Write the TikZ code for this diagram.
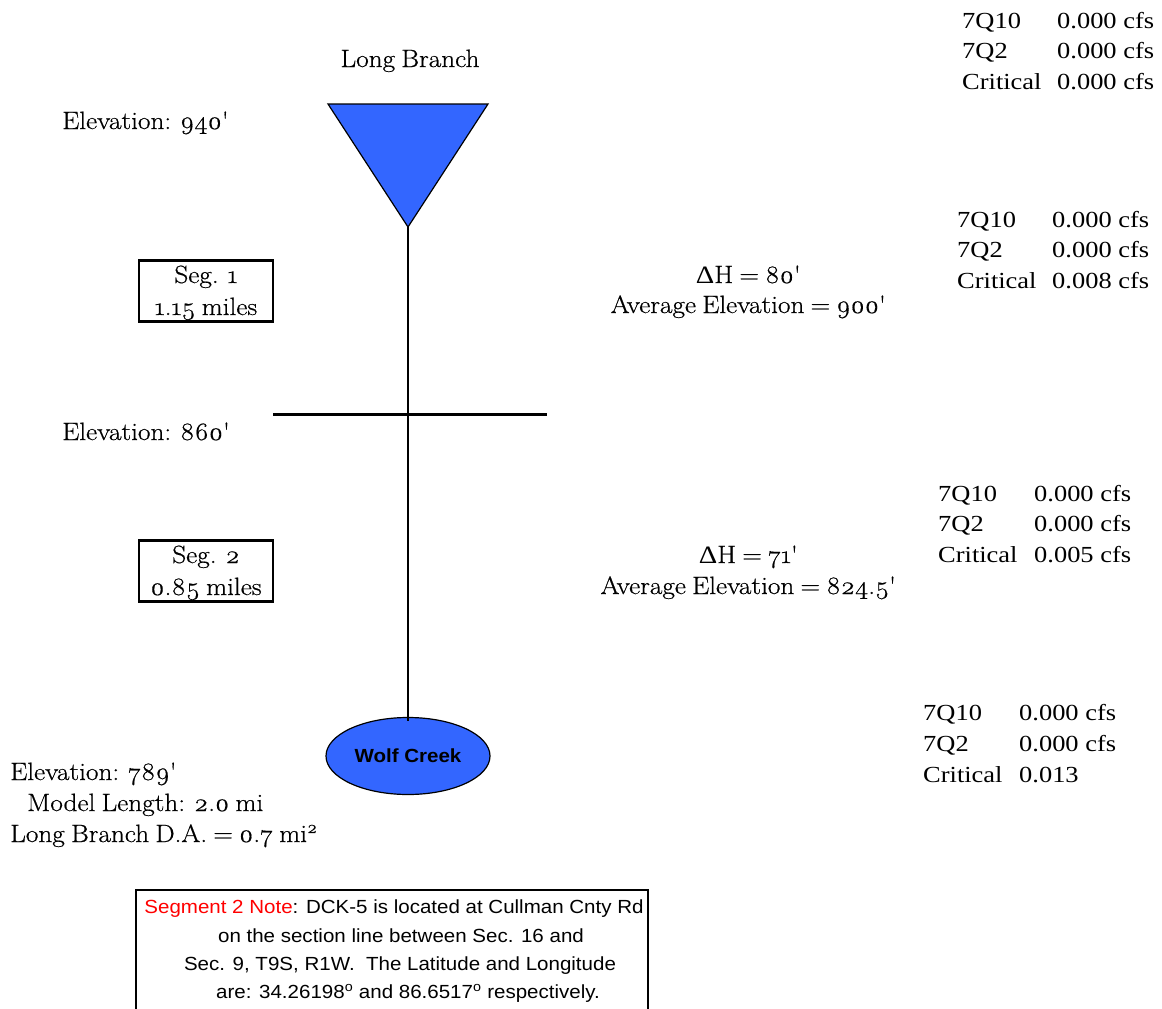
\documentclass[tikz,border=0pt]{standalone}
\usepackage{fontspec}
\setmainfont[FakeStretch=1.15]{Liberation Serif}
\newfontfamily\geo[Numbers=OldStyle,FakeStretch=1.09,FakeBold=0.6,WordSpace=0.75]{Latin Modern Roman}
\newfontfamily\arial[FakeStretch=1.08]{Liberation Sans}
\usetikzlibrary{shapes.geometric}
\definecolor{nodeblue}{HTML}{3366FF}
\definecolor{notered}{HTML}{FF0000}
\begin{document}
\begin{tikzpicture}[x=1pt,y=-1pt,
  tnr/.style={inner sep=0pt,anchor=base west,font=\fontsize{23}{28}\selectfont},
  geot/.style={inner sep=0pt,anchor=base west,font=\geo\fontsize{25}{29}\selectfont},
  geoc/.style={inner sep=0pt,anchor=base,font=\geo\fontsize{25}{29}\selectfont},
  segbox/.style={draw,line width=2.5pt,minimum width=134pt,minimum height=61pt,inner sep=0pt},
  notetxt/.style={inner sep=0pt,anchor=base,font=\arial\fontsize{19}{23}\selectfont},
  river/.style={line width=1.6pt},
  crossline/.style={line width=3pt}]
\useasboundingbox (0,0) rectangle (1162,1009);
\clip (0,0) rectangle (1162,1009);

% source triangle and outlet
\coordinate (tl) at (328,104);
\coordinate (tr) at (488,104);
\coordinate (src) at (408,227);
\draw[fill=nodeblue,line width=1.2pt,line join=miter] (tl) -- (tr) -- (src) -- cycle;
\node[ellipse,draw,fill=nodeblue,line width=1.2pt,minimum width=164pt,minimum height=77pt,inner sep=0pt,
  font=\arial\bfseries\fontsize{19}{22}\selectfont] (wc) at (408,756) {Wolf Creek};
\draw[river] (src) -- ([yshift=-4pt]wc.north);

% segment boundary
\coordinate (bl) at (273,414);
\coordinate (br) at (547,414);
\draw[crossline] (bl) -- (br);

\node[geoc] (lb) at (410,67) {Long Branch};

% elevations
\node[geot] (e940) at (62,129) {Elevation: 940\textquotesingle};
\node[geot] (e860) at (62,440) {Elevation: 860\textquotesingle};
\node[geot] (e789) at (10,780) {Elevation: 789\textquotesingle};
\node[geot] (ml) at (27,811) {Model Length: 2.0 mi};
\node[geot] (da) at (10,842) {Long Branch D.A. = 0.7 mi\textsuperscript{2}};

% segment boxes
\node[segbox] (s1) at (206,291) {};
\node[geoc] (s1a) at (206,283) {Seg. 1};
\node[geoc] (s1b) at (206,315) {1.15 miles};
\node[segbox] (s2) at (206,571) {};
\node[geoc] (s2a) at (206,563) {Seg. 2};
\node[geoc] (s2b) at (206,595) {0.85 miles};

% delta H
\node[geoc] (dh1) at (748,283) {{\rmfamily Δ}H = 80\textquotesingle};
\node[geoc] (av1) at (748,313) {Average Elevation = 900\textquotesingle};
\node[geoc] (dh2) at (748,563) {{\rmfamily Δ}H = 71\textquotesingle};
\node[geoc] (av2) at (748,594) {Average Elevation = 824.5\textquotesingle};

% flow tables
\node[tnr] (a1) at (962,28) {7Q10};
\node[tnr] (a2) at (962,58) {7Q2};
\node[tnr] (a3) at (962,89) {Critical};
\node[tnr] (a4) at (1057,28) {0.000 cfs};
\node[tnr] (a5) at (1057,58) {0.000 cfs};
\node[tnr] (a6) at (1057,89) {0.000 cfs};

\node[tnr] (b1) at (957,227) {7Q10};
\node[tnr] (b2) at (957,257) {7Q2};
\node[tnr] (b3) at (957,288) {Critical};
\node[tnr] (b4) at (1052,227) {0.000 cfs};
\node[tnr] (b5) at (1052,257) {0.000 cfs};
\node[tnr] (b6) at (1052,288) {0.008 cfs};

\node[tnr] (c1) at (938,501) {7Q10};
\node[tnr] (c2) at (938,531) {7Q2};
\node[tnr] (c3) at (938,562) {Critical};
\node[tnr] (c4) at (1034,501) {0.000 cfs};
\node[tnr] (c5) at (1034,531) {0.000 cfs};
\node[tnr] (c6) at (1034,562) {0.005 cfs};

\node[tnr] (d1) at (923,720) {7Q10};
\node[tnr] (d2) at (923,751) {7Q2};
\node[tnr] (d3) at (923,782) {Critical};
\node[tnr] (d4) at (1019,720) {0.000 cfs};
\node[tnr] (d5) at (1019,751) {0.000 cfs};
\node[tnr] (d6) at (1019,782) {0.013};

% note box
\draw[line width=1.3pt] (136,1030) -- (136,890) -- (648,890) -- (648,1030);
\node[notetxt] (n1) at (394,913) {\textcolor{notered}{Segment 2 Note}: DCK-5 is located at Cullman Cnty Rd};
\node[notetxt] (n2) at (401,942) {on the section line between Sec. 16 and};
\node[notetxt] (n3) at (400,970) {Sec. 9, T9S, R1W.\ \ The Latitude and Longitude};
\node[notetxt] (n4) at (408,998) {are: 34.26198\textsuperscript{o} and 86.6517\textsuperscript{o} respectively.};
\end{tikzpicture}
\end{document}
